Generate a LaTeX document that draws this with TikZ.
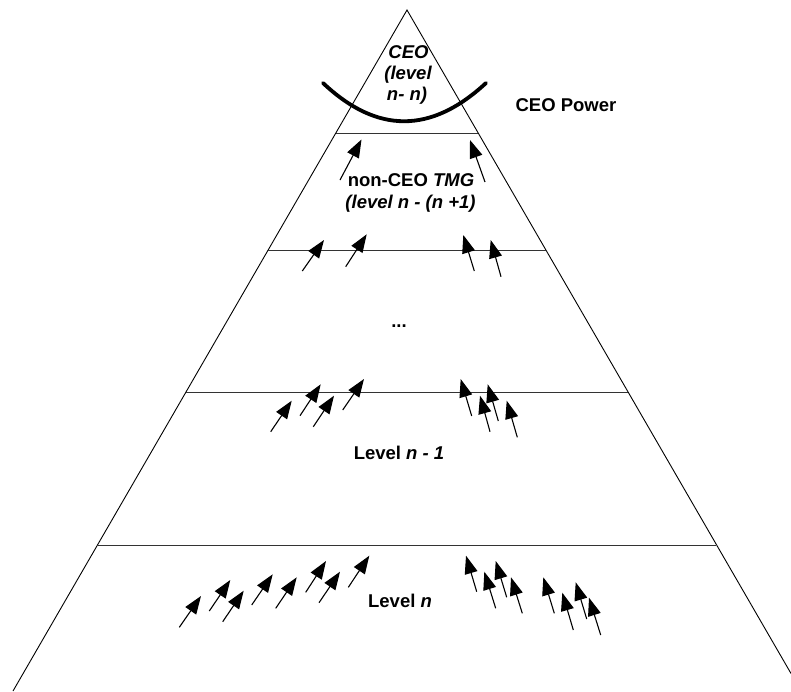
\documentclass[tikz,border=0pt]{standalone}
\usepackage{fontspec}
\setmainfont{Liberation Sans}
\usetikzlibrary{arrows.meta}
\begin{document}
\begin{tikzpicture}[x=1pt,y=-1pt,
  edge/.style={line width=0.9pt},
  band/.style={line width=0.9pt, draw=black!80},
  lbl/.style={inner sep=0pt, anchor=base, font=\fontsize{18.5}{22}\selectfont\bfseries},
  push/.style={line width=1.1pt, -{Triangle[length=18pt,width=13pt]}},
  power/.style={line width=3.8pt, line cap=round}]
\useasboundingbox (0,0) rectangle (791,691);

% pyramid outline
\coordinate (apex) at (407,10);
\coordinate (bl) at (13,691);
\coordinate (br) at (791,673.5);
\draw[edge] (bl) -- (apex) -- (br);

% level boundaries
\coordinate (l1a) at (336,133); \coordinate (l1b) at (478,133);
\coordinate (l2a) at (268,250); \coordinate (l2b) at (546,250);
\coordinate (l3a) at (186,392); \coordinate (l3b) at (628,392);
\coordinate (l4a) at (98,545);  \coordinate (l4b) at (716,545);
\draw[band] (l1a) -- (l1b);
\draw[band] (l2a) -- (l2b);
\draw[band] (l3a) -- (l3b);
\draw[band] (l4a) -- (l4b);

% CEO power curve
\coordinate (pwL) at (323,83);
\coordinate (pwR) at (486,83);
\draw[power] (pwL) .. controls (377,134) and (431,134) .. (pwR);

% labels
\node[lbl] (ceo1) at (408.5,58) {\itshape CEO};
\node[lbl] (ceo2) at (408,79) {\itshape (level};
\node[lbl] (ceo3) at (407,100) {\itshape n- n)};
\node[lbl] (power) at (566,111) {CEO Power};
\node[lbl] (tmg1) at (411,186) {non-CEO \itshape TMG};
\node[lbl] (tmg2) at (410.5,208.5) {\itshape (level n - (n +1)};
\node[lbl] (dots) at (399,327) {...};
\node[lbl] (lvl1) at (399,459) {Level \itshape n - 1};
\node[lbl] (lvln) at (400,607.5) {Level \itshape n};

% upward pushes (tail / tip)
\foreach \tx/\ty/\hx/\hy in {
  340/180/361.5/139.5, 485/182/470/140,
  302.3/271/324/240, 345.7/266.7/366.7/234.3,
  474.3/271/463.3/235, 501/276.7/490.7/240,
  270.7/431.7/291.7/400.7, 300/415.7/320.7/384.3,
  313.3/426.7/334/395.7, 342.7/410/364/379,
  471.7/416/460.7/379, 490/431.7/480/395.7,
  498.3/421/487.7/384.3, 517.3/437.3/506.7/400.7,
  179.3/627.3/201/596, 209.3/611/230.3/580,
  222.7/621.7/243.7/590.7, 251.7/605/272.7/574.3,
  275.7/608.3/296.7/577.3, 305.7/592.3/326/561,
  319/602.7/340/571.7, 348.3/587.3/369.3/555.7,
  476.7/591.7/466/555.7, 495.7/608.3/484.3/571.7,
  506.7/597.3/495.7/561, 522.3/613.3/511/577.3,
  554.3/613.3/543.3/577.3, 573.3/630/562.3/592.7,
  586.7/619/575.7/582.3, 600.7/635/589/597.7}
  \draw[push] (\tx,\ty) -- (\hx,\hy);
\end{tikzpicture}
\end{document}
